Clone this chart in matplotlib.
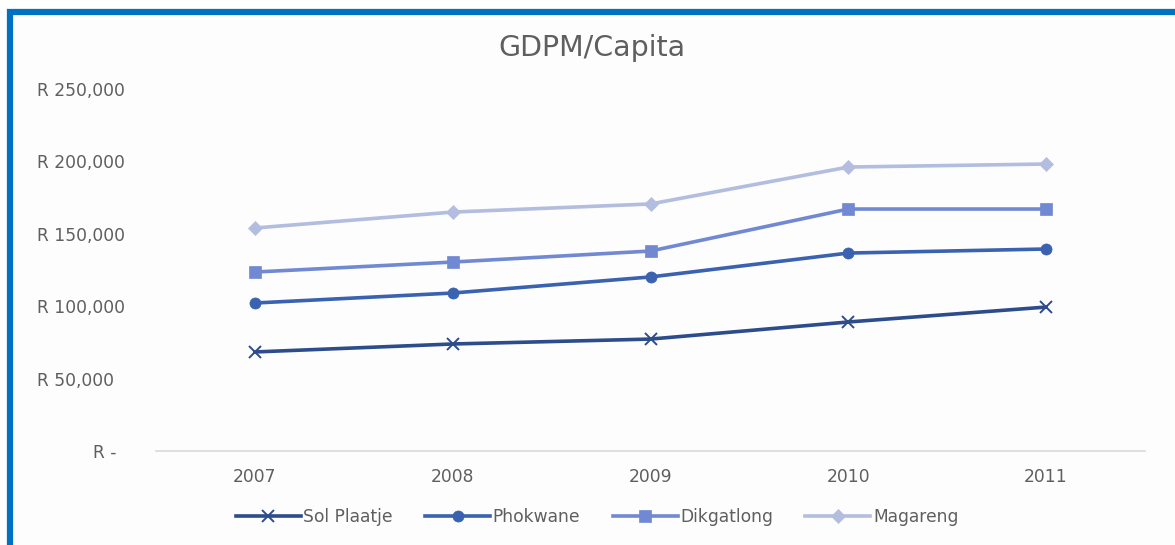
import numpy as np
import matplotlib
matplotlib.use("Agg")
import matplotlib.pyplot as plt
from matplotlib.lines import Line2D
from matplotlib.transforms import ScaledTranslation

years = ["2007", "2008", "2009", "2010", "2011"]
sol_plaatje = [68400, 73900, 77300, 89100, 99400]
phokwane = [102200, 109100, 120200, 136700, 139500]
dikgatlong = [123600, 130500, 138100, 167100, 167100]
magareng = [154000, 165000, 170600, 196100, 198200]

series = [
    ("Sol Plaatje", sol_plaatje, "#2C4C8C", "x"),
    ("Phokwane", phokwane, "#3A62B0", "o"),
    ("Dikgatlong", dikgatlong, "#7189D2", "s"),
    ("Magareng", magareng, "#B2BDE0", "D"),
]
y_ticks = [0, 50000, 100000, 150000, 200000, 250000]
y_labels = ["R -", "R 50,000", "R 100,000", "R 150,000", "R 200,000", "R 250,000"]

plt.rcParams["font.family"] = ["DejaVu Sans"]

W, H = 1175, 545
fig = plt.figure(figsize=(W / 100, H / 100), dpi=100)
fig.patch.set_facecolor("white")

# chart area background and blue frame (top and left edges)
fig.patches.append(plt.Rectangle((13 / W, 0), 1 - 13 / W, 1 - 15 / H,
                                 transform=fig.transFigure, facecolor="#FDFDFD",
                                 edgecolor="none", zorder=-5))
fig.add_artist(Line2D([10 / W, 10 / W], [0, 1 - 9 / H], color="#0070C0", lw=4.5,
                      transform=fig.transFigure, solid_capstyle="butt", zorder=-4))
fig.add_artist(Line2D([7 / W, 1], [1 - 12 / H, 1 - 12 / H], color="#0070C0", lw=4.5,
                      transform=fig.transFigure, solid_capstyle="butt", zorder=-4))

ax = fig.add_axes([156 / W, 1 - 451 / H, 989 / W, 362 / H])
ax.set_facecolor("none")
ax.set_zorder(2)

x = np.arange(len(years))
for name, vals, col, mk in series:
    ms = 9 if mk == "x" else (8 if mk != "D" else 7)
    ax.plot(x, vals, color=col, lw=2.6, marker=mk, markersize=ms,
            markeredgewidth=1.4 if mk == "x" else 0.5, markeredgecolor=col,
            markerfacecolor=col, label=name, solid_joinstyle="round")

ax.set_xlim(-0.5, len(years) - 0.5)
ax.set_ylim(0, 250000)
ax.set_xticks(x)
ax.set_xticklabels(years)
ax.set_yticks(y_ticks)
ax.set_yticklabels(y_labels)

for s in ["top", "right", "left"]:
    ax.spines[s].set_visible(False)
ax.spines["bottom"].set_color("#D9D9D9")
ax.spines["bottom"].set_linewidth(1.2)
ax.tick_params(axis="both", length=0, labelsize=12.3, labelcolor="#5f5f5f")
ax.tick_params(axis="x", pad=12)
ax.tick_params(axis="y", pad=86)
for lbl in ax.get_yticklabels():
    lbl.set_horizontalalignment("left")
# accounting-style zero label sits further right
zl = ax.get_yticklabels()[0]
zl.set_transform(zl.get_transform() + ScaledTranslation(0.56, 0, fig.dpi_scale_trans))

fig.text(592 / W, 1 - 48 / H, "GDPM/Capita", ha="center", va="center",
         fontsize=20.5, color="#5f5f5f")

fig.legend(loc="center", bbox_to_anchor=(597 / W, 1 - 517 / H), ncol=4,
           frameon=False, fontsize=12.3, labelcolor="#5f5f5f", handlelength=3.8,
           handletextpad=0.15, columnspacing=1.9)

fig.savefig("out.png", dpi=100)
